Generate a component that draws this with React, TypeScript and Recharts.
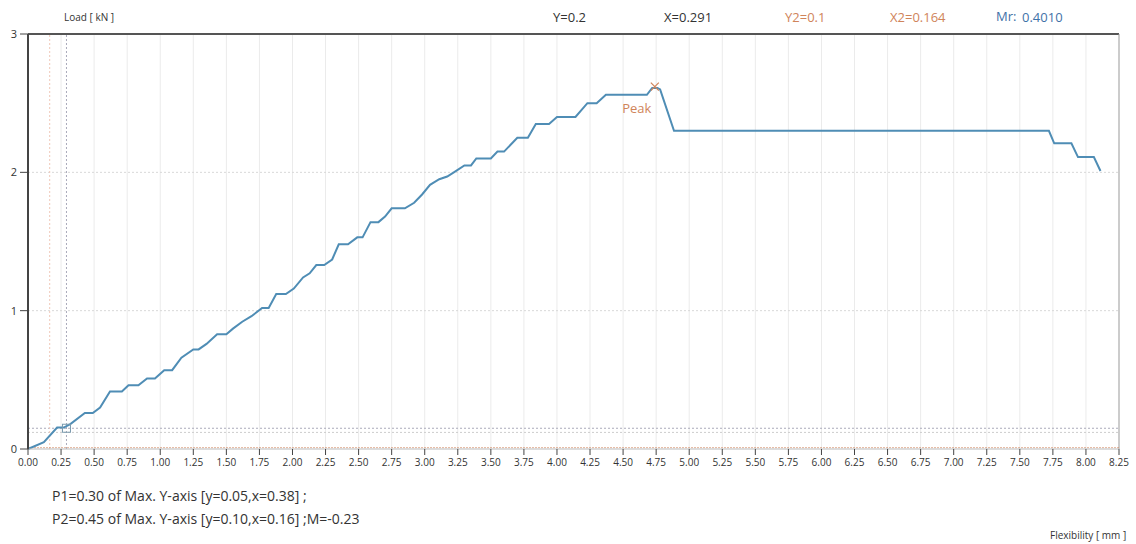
import { LineChart, Line, XAxis, YAxis, ReferenceLine, ReferenceDot } from 'recharts';

// flexibility [mm]
const flexibility = [
  0, 0.12, 0.22, 0.27, 0.32, 0.43, 0.49, 0.545, 0.62, 0.71, 0.76, 0.835, 0.9, 0.96, 1.03, 1.09,
  1.16, 1.25, 1.29, 1.35, 1.43, 1.5, 1.55, 1.62, 1.69, 1.77, 1.82, 1.877, 1.95, 2.01, 2.08, 2.13,
  2.18, 2.24, 2.3, 2.35, 2.42, 2.49, 2.53, 2.59, 2.65, 2.7, 2.75, 2.85, 2.92, 2.98, 3.04, 3.11,
  3.17, 3.22, 3.3, 3.35, 3.39, 3.5, 3.55, 3.6, 3.7, 3.78, 3.84, 3.94, 4.0, 4.14, 4.23, 4.3,
  4.37, 4.68, 4.72, 4.76, 4.78, 4.885, 7.72, 7.76, 7.89, 7.94, 8.06, 8.11,
];

// load [kN]
const load = [
  0, 0.05, 0.155, 0.155, 0.18, 0.26, 0.26, 0.3, 0.415, 0.415, 0.46, 0.46, 0.51, 0.51, 0.57, 0.57,
  0.66, 0.72, 0.72, 0.76, 0.83, 0.83, 0.87, 0.92, 0.96, 1.02, 1.02, 1.12, 1.12, 1.16, 1.24, 1.27,
  1.33, 1.33, 1.37, 1.48, 1.48, 1.53, 1.53, 1.64, 1.64, 1.68, 1.74, 1.74, 1.78, 1.84, 1.91, 1.95,
  1.97, 2.0, 2.05, 2.05, 2.1, 2.1, 2.15, 2.15, 2.25, 2.25, 2.35, 2.35, 2.4, 2.4, 2.5, 2.5,
  2.56, 2.56, 2.61, 2.61, 2.6, 2.3, 2.3, 2.21, 2.21, 2.11, 2.11, 2.01,
];

const xTicks = [
  0, 0.25, 0.5, 0.75, 1, 1.25, 1.5, 1.75, 2, 2.25, 2.5, 2.75, 3, 3.25, 3.5, 3.75, 4, 4.25, 4.5,
  4.75, 5, 5.25, 5.5, 5.75, 6, 6.25, 6.5, 6.75, 7, 7.25, 7.5, 7.75, 8, 8.25,
];
const yTicks = [0, 1, 2, 3];

// cursor / marker values
const cursorX = 0.291;
const cursorY = 0.15;
const cursorY2 = 0.12;
const cursorX2 = 0.164;
const peak = { x: 4.74, y: 2.62 };

const data = flexibility.map((x, i) => ({ x, y: load[i] }));

const BLUE = '#4f8db5';
const ORANGE = '#d0845a';
const FONT = '"Open Sans", "Noto Sans", sans-serif';

const SquareMark = (p: any) => (
  <rect x={p.cx - 4} y={p.cy - 4} width={8} height={8} fill="none" stroke="#7a9aae" strokeWidth={1} />
);

const PeakMark = (p: any) => (
  <g>
    <path d={`M${p.cx - 4},${p.cy - 4}L${p.cx + 4},${p.cy + 4}M${p.cx + 4},${p.cy - 4}L${p.cx - 4},${p.cy + 4}`} stroke={ORANGE} strokeWidth={1.2} />
    <text x={p.cx - 18} y={p.cy + 26} textAnchor="middle" fill={ORANGE} fontSize={13} fontFamily={FONT}>Peak</text>
  </g>
);

export default function App() {
  return (
    <div style={{ position: 'absolute', left: 0, top: 0, width: 1136, height: 544, background: '#fff', fontFamily: FONT }}>
      <div style={{ position: 'absolute', left: 64, top: 10, fontSize: 10, color: '#333' }}>Load [ kN ]</div>
      <div style={{ position: 'absolute', left: 553, top: 8, fontSize: 13, color: '#333' }}>Y=0.2</div>
      <div style={{ position: 'absolute', left: 664, top: 8, fontSize: 13, color: '#333' }}>X=0.291</div>
      <div style={{ position: 'absolute', left: 785, top: 8, fontSize: 13, color: ORANGE }}>Y2=0.1</div>
      <div style={{ position: 'absolute', left: 890, top: 8, fontSize: 13, color: ORANGE }}>X2=0.164</div>
      <div style={{ position: 'absolute', left: 996, top: 7, fontSize: 13, color: '#3f72a8' }}>Mr:</div>
      <div style={{ position: 'absolute', left: 1022, top: 8, fontSize: 13, color: '#3f72a8' }}>0.4010</div>

      <LineChart width={1136} height={544} data={data} margin={{ top: 34, right: 17, left: 0, bottom: 65 }}>
        <XAxis
          type="number"
          dataKey="x"
          domain={[0, 8.25]}
          ticks={xTicks}
          interval={0}
          tickFormatter={(v: number) => v.toFixed(2)}
          height={30}
          tickSize={6}
          tickMargin={4}
          tick={{ fontSize: 10, fill: '#333', fontFamily: FONT }}
          axisLine={{ stroke: '#bbb' }}
          tickLine={{ stroke: '#444' }}
        />
        <YAxis
          type="number"
          domain={[0, 3]}
          ticks={yTicks}
          width={28}
          tickSize={8}
          tickMargin={3}
          tick={{ fontSize: 11, fill: '#333', fontFamily: FONT }}
          axisLine={{ stroke: '#444', strokeWidth: 2 }}
          tickLine={{ stroke: '#444' }}
        />
        {xTicks.slice(1, -1).map((t) => (
          <ReferenceLine key={'vx' + t} x={t} stroke="#ebebeb" />
        ))}
        <ReferenceLine y={1} stroke="#d8d8d8" strokeDasharray="2 2" />
        <ReferenceLine y={2} stroke="#d8d8d8" strokeDasharray="2 2" />
        <ReferenceLine y={3} stroke="#555" strokeWidth={2} />
        <ReferenceLine x={8.25} stroke="#999" />
        <ReferenceLine y={cursorY} stroke="#aab" strokeDasharray="2 2" />
        <ReferenceLine y={cursorY2} stroke="#ccc" strokeDasharray="2 2" />
        <ReferenceLine x={cursorX} stroke="#aab" strokeDasharray="2 2" />
        <ReferenceLine x={cursorX2} stroke="#f0c8b8" strokeDasharray="2 2" />
        <ReferenceLine y={0.01} stroke={ORANGE} strokeDasharray="2 1" strokeOpacity={0.6} />
        <Line type="linear" dataKey="y" stroke={BLUE} strokeWidth={2} dot={false} isAnimationActive={false} />
        <ReferenceDot x={cursorX} y={cursorY} shape={SquareMark} />
        <ReferenceDot x={peak.x} y={peak.y} shape={PeakMark} />
      </LineChart>

      <div style={{ position: 'absolute', left: 52, top: 486, fontSize: 14, color: '#333' }}>
        P1=0.30 of Max. Y-axis [y=0.05,x=0.38] ;
      </div>
      <div style={{ position: 'absolute', left: 52, top: 509, fontSize: 14, color: '#333' }}>
        P2=0.45 of Max. Y-axis [y=0.10,x=0.16] ;M=-0.23
      </div>
      <div style={{ position: 'absolute', left: 1050, top: 528, fontSize: 10, color: '#333' }}>Flexibility [ mm ]</div>
    </div>
  );
}
